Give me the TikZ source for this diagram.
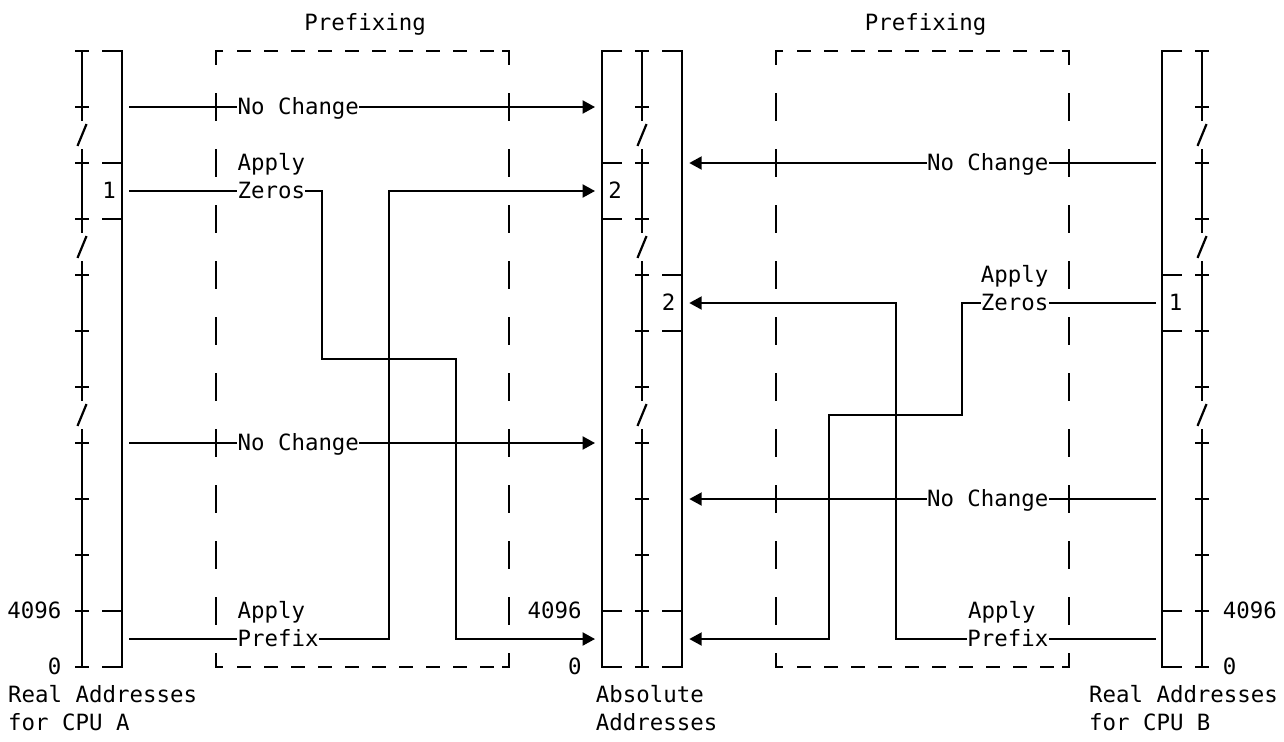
\documentclass[tikz,border=0pt]{standalone}
\usepackage{fontspec}
\usepackage{tikz}
\usetikzlibrary{arrows.meta, positioning}
\newfontfamily\monofam{DejaVu Sans Mono}
\tikzset{
  txt/.style={font=\monofam\fontsize{11.2pt}{13pt}\selectfont, inner sep=0pt, text height=8.5pt, text depth=1.2pt},
  ln/.style={line width=1pt},
  brk/.style={line width=1.1pt},
  arr/.style={ln, -{Triangle[length=6.2pt, width=6.5pt]}},
}

\begin{document}
\begin{tikzpicture}[x=0.5pt, y=-14pt]
    \useasboundingbox (0,-1.8214) rectangle (1284,24.643);

    % Escalas de direcciones
    \foreach \ax in {82,642,1202} {
      \draw[ln] (\ax,0) -- (\ax,2.5) (\ax,3.5) -- (\ax,6.5) (\ax,7.5) -- (\ax,12.5) (\ax,13.5) -- (\ax,22);
      \foreach \r in {0,2,...,22} \draw[ln] (\ax-6.75,\r) -- (\ax+6.75,\r);
      \foreach \r in {3,7,13} \draw[brk] (\ax-4.5,\r+0.39) -- (\ax+4.5,\r-0.39);
    }

    % Marcos de memoria
    \draw[ln] (102,0) -- (122,0) -- (122,22) -- (102,22);
    \foreach \r in {4,6,20} \draw[ln] (102,\r) -- (122,\r);
    \draw[ln] (622,0) -- (602,0) -- (602,22) -- (622,22);
    \foreach \r in {4,6,20} \draw[ln] (602,\r) -- (622,\r);
    \draw[ln] (662,0) -- (682,0) -- (682,22) -- (662,22);
    \foreach \r in {8,10,20} \draw[ln] (662,\r) -- (682,\r);
    \draw[ln] (1182,0) -- (1162,0) -- (1162,22) -- (1182,22);
    \foreach \r in {8,10,20} \draw[ln] (1162,\r) -- (1182,\r);
    \node[txt] (blkA) at (109,5) {1};
    \node[txt] (absA) at (615,5) {2};
    \node[txt] (absB) at (668.7,9) {2};
    \node[txt] (blkB) at (1175.5,9) {1};

    % Cajas de prefijo
    \foreach \xl/\xr in {216/509, 776/1069} {
      \draw[ln] (\xl+7,0) -- (\xl,0) -- (\xl,0.5);
      \draw[ln] (\xl,21.5) -- (\xl,22) -- (\xl+7,22);
      \draw[ln] (\xr-7,0) -- (\xr,0) -- (\xr,0.5);
      \draw[ln] (\xr,21.5) -- (\xr,22) -- (\xr-7,22);
      \foreach \r in {2,4,...,20} \draw[ln] (\xl,\r-0.5) -- (\xl,\r+0.5) (\xr,\r-0.5) -- (\xr,\r+0.5);
      \foreach \i in {0,...,9} \draw[ln] (\xl+21+27*\i,0) -- (\xl+34.5+27*\i,0) (\xl+21+27*\i,22) -- (\xl+34.5+27*\i,22);
    }
    \node[txt, anchor=west] (pfxA) at (304,-1) {Prefixing};
    \node[txt, anchor=west] (pfxB) at (864.5,-1) {Prefixing};

    % Rotulos
    \node[txt, anchor=east] (topA) at (61.8,20) {4096};
    \node[txt, anchor=east] (botA) at (61.8,22) {0};
    \node[txt, anchor=east] (topM) at (582,20) {4096};
    \node[txt, anchor=east] (botM) at (582,22) {0};
    \node[txt, anchor=west] (topB) at (1222.5,20) {4096};
    \node[txt, anchor=west] (botB) at (1222.5,22) {0};
    \node[txt, anchor=west] (realA) at (7.8,23) {Real Addresses};
    \node[txt, anchor=west] (cpuA) at (7.8,24) {for CPU A};
    \node[txt, anchor=west] (absl) at (595.5,23) {Absolute};
    \node[txt, anchor=west] (adrl) at (595.5,24) {Addresses};
    \node[txt, anchor=west] (realB) at (1088.7,23) {Real Addresses};
    \node[txt, anchor=west] (cpuB) at (1088.7,24) {for CPU B};

    % CPU A hacia absoluto
    \coordinate (a2) at (129,2);
    \coordinate (a5) at (129,5);
    \coordinate (a14) at (129,14);
    \coordinate (a21) at (129,21);
    \coordinate (t2) at (595,2);
    \coordinate (t5) at (595,5);
    \coordinate (t14) at (595,14);
    \coordinate (t21) at (595,21);
    \node[txt, anchor=west] (ncA1) at (237.2,2) {No Change};
    \node[txt, anchor=west] (apA1) at (237.2,4) {Apply};
    \node[txt, anchor=west] (zeA) at (237.2,5) {Zeros};
    \node[txt, anchor=west] (ncA2) at (237.2,14) {No Change};
    \node[txt, anchor=west] (apA2) at (237.2,20) {Apply};
    \node[txt, anchor=west] (prA) at (237.2,21) {Prefix};
    \draw[ln] (a2) -- (ncA1.west);
    \draw[arr] (ncA1.east) -- (t2);
    \draw[ln] (a5) -- (zeA.west);
    \draw[arr] (zeA.east) -| (322,11) -| (456,21) -- (t21);
    \draw[ln] (a14) -- (ncA2.west);
    \draw[arr] (ncA2.east) -- (t14);
    \draw[ln] (a21) -- (prA.west);
    \draw[arr] (prA.east) -| (389,5) -- (t5);

    % CPU B hacia absoluto
    \coordinate (b4) at (1156,4);
    \coordinate (b9) at (1156,9);
    \coordinate (b16) at (1156,16);
    \coordinate (b21) at (1156,21);
    \coordinate (s4) at (689.3,4);
    \coordinate (s9) at (689.3,9);
    \coordinate (s16) at (689.3,16);
    \coordinate (s21) at (689.3,21);
    \node[txt, anchor=east] (ncB1) at (1048.8,4) {No Change};
    \node[txt, anchor=east] (apB1) at (1048.8,8) {Apply};
    \node[txt, anchor=east] (zeB) at (1048.8,9) {Zeros};
    \node[txt, anchor=east] (ncB2) at (1048.8,16) {No Change};
    \node[txt, anchor=west] (apB2) at (967.8,20) {Apply};
    \node[txt, anchor=east] (prB) at (1048.8,21) {Prefix};
    \draw[ln] (b4) -- (ncB1.east);
    \draw[arr] (ncB1.west) -- (s4);
    \draw[ln] (b9) -- (zeB.east);
    \draw[arr] (zeB.west) -| (962,13) -| (829,21) -- (s21);
    \draw[ln] (b16) -- (ncB2.east);
    \draw[arr] (ncB2.west) -- (s16);
    \draw[ln] (b21) -- (prB.east);
    \draw[arr] (prB.west) -| (896,9) -- (s9);

\end{tikzpicture}
\end{document}
